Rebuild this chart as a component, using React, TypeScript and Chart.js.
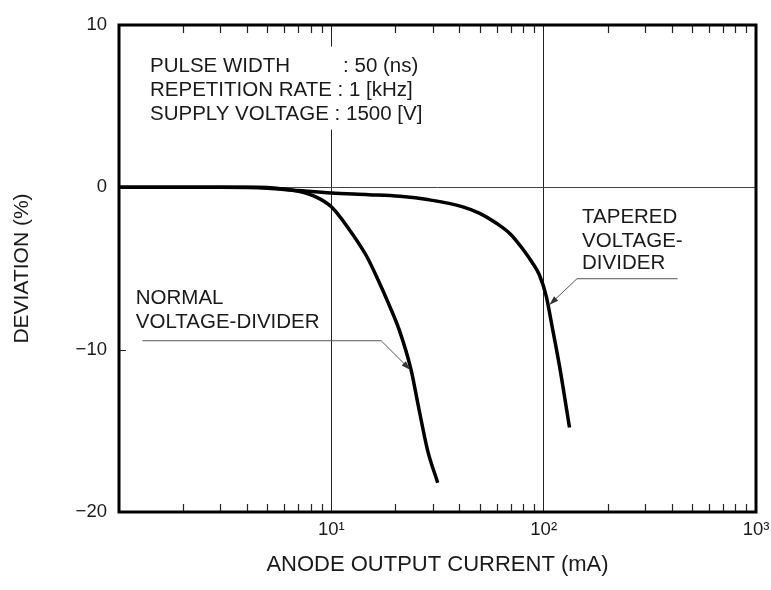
import React, { useEffect, useRef } from "react";
import { Chart, registerables } from "chart.js";

Chart.register(...registerables);

// ---- data ----
const normalX = [1, 2, 3, 4.5, 5.5, 7, 8.5, 10, 12, 14.6, 16.2, 18.8, 20.9, 23.7, 25.9, 28.4, 31.7];
const normalY = [0, 0, 0, 0, -0.05, -0.25, -0.6, -1.2, -2.5, -4.2, -5.4, -7.3, -8.8, -11.2, -13.7, -16.2, -18.2];
const taperedX = [1, 3, 5, 7, 10, 15, 21, 28.9, 41.6, 50, 59.7, 70, 79.7, 88, 95.5, 102.8, 110.4, 118.7, 127.6, 132.3];
const taperedY = [0, 0, -0.05, -0.2, -0.35, -0.45, -0.55, -0.77, -1.2, -1.6, -2.2, -2.9, -3.8, -4.6, -5.4, -6.7, -8.8, -11.0, -13.5, -14.8];

const xTickValues = [10, 100, 1000];
const xTickLabels = ["10\u00B9", "10\u00B2", "10\u00B3"];
const xMinorDecades = [1, 10, 100];
const xMinorMultipliers = [2, 3, 4, 5, 6, 7, 8, 9];
const yTickValues = [-20, -10, 0, 10];
const yTickLabels = ["\u221220", "\u221210", "0", "10"];
const yMinorTicks = [-10];

const xTitle = "ANODE OUTPUT CURRENT (mA)";
const yTitle = "DEVIATION (%)";

const paramLeftLines = ["PULSE WIDTH", "REPETITION RATE : 1 [kHz]", "SUPPLY VOLTAGE : 1500 [V]"];
const paramRightLines = [": 50 (ns)", "", ""];
const normalLabel = ["NORMAL", "VOLTAGE-DIVIDER"];
const taperedLabel = ["TAPERED", "VOLTAGE-", "DIVIDER"];

// ---- annotation anchors (data coordinates) ----
const paramTextX = 1.4;
const paramColonX = 11.36;
const paramLineY = [7.44, 5.96, 4.48];
const paramBoxX = [1.33, 30];
const paramBoxY = [8.67, 3.56];

const normalTextX = 1.2;
const normalLineY = [-6.86, -8.33];
const normalLeader = { x0: 1.29, x1: 17.17, y: -9.45, tipX: 23.5, tipY: -11.23 };

const taperedTextX = 151.6;
const taperedLineY = [-1.82, -3.33, -4.7];
const taperedLeader = { x0: 427.6, x1: 143.5, y: -5.63, tipX: 106.6, tipY: -7.23 };

const FONT = "'Liberation Sans', Arial, Helvetica, sans-serif";
const TEXT = "#1a1a1a";

function arrow(ctx: CanvasRenderingContext2D, fx: number, fy: number, tx: number, ty: number) {
  const ang = Math.atan2(ty - fy, tx - fx);
  const len = 9;
  const hw = 3;
  ctx.beginPath();
  ctx.moveTo(tx, ty);
  ctx.lineTo(tx - len * Math.cos(ang) + hw * Math.sin(ang), ty - len * Math.sin(ang) - hw * Math.cos(ang));
  ctx.lineTo(tx - len * Math.cos(ang) - hw * Math.sin(ang), ty - len * Math.sin(ang) + hw * Math.cos(ang));
  ctx.closePath();
  ctx.fill();
}

const overlay = {
  id: "overlay",
  beforeDatasetsDraw(chart: any) {
    const { ctx, scales } = chart;
    const x = scales.x;
    const y = scales.y;
    const x0 = x.getPixelForValue(paramBoxX[0]);
    const x1 = x.getPixelForValue(paramBoxX[1]);
    const y0 = y.getPixelForValue(paramBoxY[0]);
    const y1 = y.getPixelForValue(paramBoxY[1]);
    ctx.save();
    ctx.fillStyle = "#ffffff";
    ctx.fillRect(x0, y0, x1 - x0, y1 - y0);
    ctx.restore();
  },
  afterDatasetsDraw(chart: any) {
    const { ctx, chartArea: ca, scales } = chart;
    const x = scales.x;
    const y = scales.y;
    ctx.save();

    // minor ticks
    ctx.strokeStyle = "#222";
    ctx.lineWidth = 1.2;
    ctx.beginPath();
    for (const d of xMinorDecades) {
      for (const m of xMinorMultipliers) {
        const px = Math.round(x.getPixelForValue(d * m)) + 0.5;
        ctx.moveTo(px, ca.bottom);
        ctx.lineTo(px, ca.bottom - 8);
        ctx.moveTo(px, ca.top);
        ctx.lineTo(px, ca.top + 8);
      }
    }
    for (const v of yMinorTicks) {
      const py = Math.round(y.getPixelForValue(v)) + 0.5;
      ctx.moveTo(ca.left, py);
      ctx.lineTo(ca.left + 7, py);
    }
    ctx.stroke();

    // frame
    ctx.strokeStyle = "#000";
    ctx.lineWidth = 3;
    ctx.strokeRect(ca.left, ca.top, ca.right - ca.left, ca.bottom - ca.top);

    // text
    ctx.fillStyle = TEXT;
    ctx.font = `20.5px ${FONT}`;
    ctx.textBaseline = "middle";
    ctx.textAlign = "left";
    paramLeftLines.forEach((t, i) => {
      ctx.fillText(t, x.getPixelForValue(paramTextX), y.getPixelForValue(paramLineY[i]));
    });
    paramRightLines.forEach((t, i) => {
      if (t) ctx.fillText(t, x.getPixelForValue(paramColonX), y.getPixelForValue(paramLineY[i]));
    });
    normalLabel.forEach((t, i) => {
      ctx.fillText(t, x.getPixelForValue(normalTextX), y.getPixelForValue(normalLineY[i]));
    });
    taperedLabel.forEach((t, i) => {
      ctx.fillText(t, x.getPixelForValue(taperedTextX), y.getPixelForValue(taperedLineY[i]));
    });

    // leaders
    ctx.strokeStyle = "#555";
    ctx.fillStyle = "#333";
    ctx.lineWidth = 1;
    for (const L of [normalLeader, taperedLeader]) {
      const ax = x.getPixelForValue(L.x0);
      const bx = x.getPixelForValue(L.x1);
      const ly = y.getPixelForValue(L.y);
      const tx = x.getPixelForValue(L.tipX);
      const ty = y.getPixelForValue(L.tipY);
      ctx.beginPath();
      ctx.moveTo(ax, ly);
      ctx.lineTo(bx, ly);
      ctx.lineTo(tx, ty);
      ctx.stroke();
      arrow(ctx, bx, ly, tx, ty);
    }
    ctx.restore();
  },
};

export default function App() {
  const ref = useRef<HTMLCanvasElement | null>(null);

  useEffect(() => {
    if (!ref.current) return;
    const chart = new Chart(ref.current, {
      type: "line",
      data: {
        datasets: [
          {
            label: "NORMAL VOLTAGE-DIVIDER",
            data: normalX.map((v, i) => ({ x: v, y: normalY[i] })),
            borderColor: "#000",
            borderWidth: 3.5,
            pointRadius: 0,
            fill: false,
            cubicInterpolationMode: "monotone",
          },
          {
            label: "TAPERED VOLTAGE-DIVIDER",
            data: taperedX.map((v, i) => ({ x: v, y: taperedY[i] })),
            borderColor: "#000",
            borderWidth: 3.5,
            pointRadius: 0,
            fill: false,
            cubicInterpolationMode: "monotone",
          },
        ],
      },
      options: {
        animation: false,
        responsive: false,
        devicePixelRatio: 1,
        layout: { padding: { left: 0, right: 15, top: 25, bottom: 0 } },
        plugins: { legend: { display: false }, tooltip: { enabled: false } },
        scales: {
          x: {
            type: "logarithmic",
            min: 1,
            max: 1000,
            position: "bottom",
            afterBuildTicks: (s: any) => {
              s.ticks = xTickValues.map((v) => ({ value: v }));
            },
            afterFit: (s: any) => {
              s.height = 78;
              s.paddingLeft = 0;
              s.paddingRight = 0;
            },
            grid: {
              color: (c: any) =>
                c.tick && (c.tick.value === 10 || c.tick.value === 100) ? "#222" : "rgba(0,0,0,0)",
              lineWidth: 1,
              drawTicks: false,
            },
            border: { display: false },
            ticks: {
              autoSkip: false,
              maxRotation: 0,
              padding: 7,
              color: TEXT,
              font: { family: FONT, size: 18.5 },
              callback: (v: any) => {
                const i = xTickValues.indexOf(Number(v));
                return i >= 0 ? xTickLabels[i] : "";
              },
            },
            title: {
              display: true,
              text: xTitle,
              color: TEXT,
              font: { family: FONT, size: 22 },
              padding: { top: 0, bottom: 12 },
            },
          },
          y: {
            type: "linear",
            min: -20,
            max: 10,
            afterBuildTicks: (s: any) => {
              s.ticks = yTickValues.map((v) => ({ value: v }));
            },
            afterFit: (s: any) => {
              s.width = 119;
              s.paddingTop = 0;
              s.paddingBottom = 0;
            },
            grid: {
              color: (c: any) => (c.tick && c.tick.value === 0 ? "#444" : "rgba(0,0,0,0)"),
              lineWidth: 1,
              drawTicks: false,
            },
            border: { display: false },
            ticks: {
              autoSkip: false,
              padding: 12,
              color: TEXT,
              font: { family: FONT, size: 18.5 },
              callback: (v: any) => {
                const i = yTickValues.indexOf(Number(v));
                return i >= 0 ? yTickLabels[i] : "";
              },
            },
            title: {
              display: true,
              text: yTitle,
              color: TEXT,
              font: { family: FONT, size: 21 },
              padding: { top: 10, bottom: 0 },
            },
          },
        },
      },
      plugins: [overlay],
    });
    return () => chart.destroy();
  }, []);

  return (
    <div style={{ position: "fixed", left: 0, top: 0, width: 771, height: 590, background: "#fff" }}>
      <canvas ref={ref} width={771} height={590} />
    </div>
  );
}
